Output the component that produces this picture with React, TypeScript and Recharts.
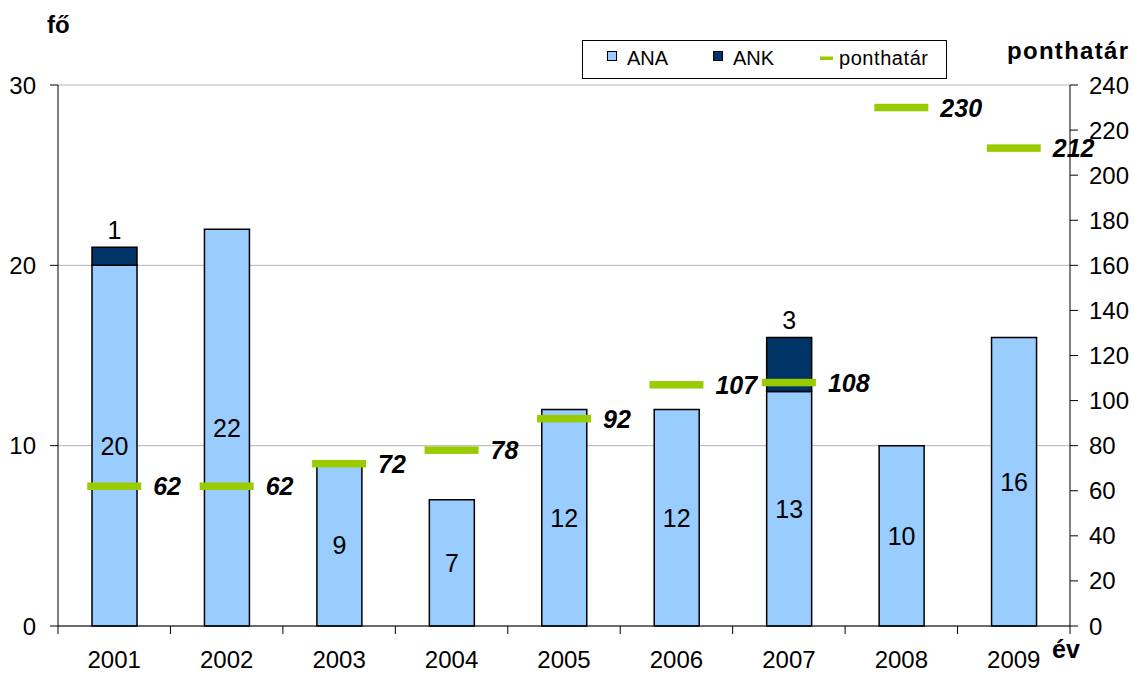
import React from "react";
import { ComposedChart, Bar, Line, XAxis, YAxis, CartesianGrid, LabelList } from "recharts";

const years = ["2001", "2002", "2003", "2004", "2005", "2006", "2007", "2008", "2009"];
const ana = [20, 22, 9, 7, 12, 12, 13, 10, 16];
const ank = [1, 0, 0, 0, 0, 0, 3, 0, 0];
const ponthatar = [62, 62, 72, 78, 92, 107, 108, 230, 212];
const leftTicks = [0, 10, 20, 30];
const rightTicks = [0, 20, 40, 60, 80, 100, 120, 140, 160, 180, 200, 220, 240];

const data = years.map((year, i) => ({ year, ANA: ana[i], ANK: ank[i], ponthatar: ponthatar[i] }));

const W = 1134;
const H = 673;
const LEFT_W = 58;
const RIGHT_W = 64;
const X_H = 47;
const BAND = (W - LEFT_W - RIGHT_W) / years.length;
const AXIS_Y = H - X_H;
const FONT = '"Liberation Sans", Arial, sans-serif';
const GREEN = "#99CC00";

const XTick = (props: any) => {
  const { x, payload, index } = props;
  const last = index === years.length - 1;
  return (
    <g>
      <line x1={x - BAND / 2} x2={x - BAND / 2} y1={AXIS_Y} y2={AXIS_Y + 8} stroke="#000" />
      {last && <line x1={x + BAND / 2} x2={x + BAND / 2} y1={AXIS_Y} y2={AXIS_Y + 8} stroke="#000" />}
      <text x={x} y={AXIS_Y + 42} textAnchor="middle" fontSize={24} fill="#000" fontFamily={FONT}>
        {payload.value}
      </text>
    </g>
  );
};

const GreenMark = (props: any) => {
  const { cx, cy, index } = props;
  if (cx == null || cy == null) return <g key={index} />;
  return <rect key={index} x={cx - 27} y={cy - 3.75} width={54} height={7.5} fill={GREEN} />;
};

const GreenLabel = (props: any) => {
  const { x, y, value } = props;
  return (
    <text x={x + 39} y={y + 9} fontSize={25} fontWeight="bold" fontStyle="italic" fill="#000" fontFamily={FONT}>
      {value}
    </text>
  );
};

export default function App() {
  return (
    <div style={{ position: "absolute", left: 0, top: 0, width: W, height: H, fontFamily: FONT }}>
      <ComposedChart width={W} height={H} data={data} margin={{ top: 85, right: 0, bottom: 0, left: 0 }} barSize={45}>
        <CartesianGrid yAxisId="left" vertical={false} stroke="#b4b4b4" />
        <XAxis
          dataKey="year"
          height={X_H}
          axisLine={{ stroke: "#000" }}
          tickLine={false}
          tickSize={0}
          tick={<XTick />}
          interval={0}
        />
        <YAxis
          yAxisId="left"
          width={LEFT_W}
          domain={[0, 30]}
          ticks={leftTicks}
          axisLine={{ stroke: "#000" }}
          tickLine={{ stroke: "#000" }}
          tickSize={8}
          tickMargin={14}
          tick={{ fontSize: 24, fill: "#000", fontFamily: FONT }}
        />
        <YAxis
          yAxisId="right"
          orientation="right"
          width={RIGHT_W}
          domain={[0, 240]}
          ticks={rightTicks}
          interval={0}
          axisLine={{ stroke: "#000" }}
          tickLine={{ stroke: "#000" }}
          tickSize={8}
          tickMargin={11}
          tick={{ fontSize: 24, fill: "#000", fontFamily: FONT }}
        />
        <Bar yAxisId="left" dataKey="ANA" stackId="a" fill="#99CCFF" stroke="#000" strokeWidth={1.5} isAnimationActive={false}>
          <LabelList dataKey="ANA" position="center" fill="#000" stroke="none" fontSize={25} fontFamily={FONT} />
        </Bar>
        <Bar yAxisId="left" dataKey="ANK" stackId="a" fill="#003366" stroke="#000" strokeWidth={1.5} isAnimationActive={false}>
          <LabelList
            dataKey="ANK"
            position="top"
            offset={8}
            fill="#000"
            stroke="none"
            fontSize={25}
            fontFamily={FONT}
            formatter={(v: any) => (v ? v : "")}
          />
        </Bar>
        <Line
          yAxisId="right"
          dataKey="ponthatar"
          stroke="none"
          dot={GreenMark}
          activeDot={false}
          isAnimationActive={false}
        >
          <LabelList dataKey="ponthatar" content={GreenLabel} />
        </Line>
      </ComposedChart>
      <svg width={W} height={H} style={{ position: "absolute", left: 0, top: 0, pointerEvents: "none" }}>
        <text x={47} y={33} fontSize={24} fontWeight="bold" fontFamily={FONT} fill="#000">fő</text>
        <text x={1007} y={59} fontSize={24} fontWeight="bold" fontFamily={FONT} fill="#000" textLength={121} lengthAdjust="spacing">ponthatár</text>
        <text x={1052} y={658} fontSize={25} fontWeight="bold" fontFamily={FONT} fill="#000">év</text>
        <g fontFamily={FONT} fontSize={20} fill="#000">
          <rect x={582.5} y={40.5} width={364} height={38} fill="#fff" stroke="#000" />
          <rect x={607.5} y={51.5} width={9} height={9} fill="#99CCFF" stroke="#000" />
          <text x={627} y={65}>ANA</text>
          <rect x={713.5} y={51.5} width={9} height={9} fill="#003366" stroke="#000" />
          <text x={733} y={65}>ANK</text>
          <rect x={820} y={56.5} width={13} height={3.5} fill={GREEN} />
          <text x={839} y={65} textLength={89} lengthAdjust="spacing">ponthatár</text>
        </g>
      </svg>
    </div>
  );
}
